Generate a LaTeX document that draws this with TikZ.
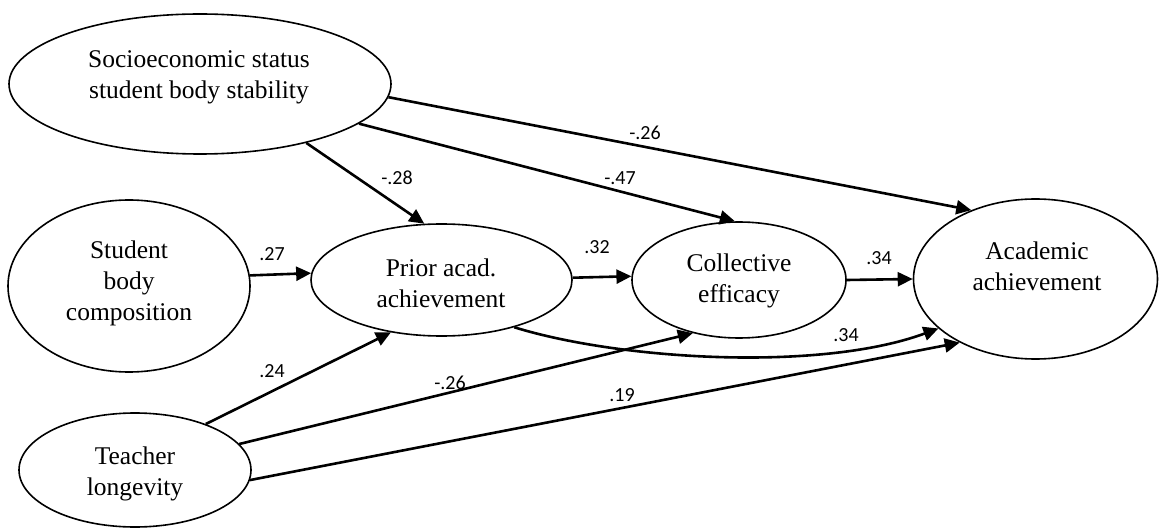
\documentclass[tikz,border=0pt]{standalone}
\usepackage{fontspec}
\setmainfont{Liberation Serif}
\newfontfamily\coeffont{Carlito}
\usetikzlibrary{arrows.meta, shapes.geometric}

\begin{document}
\begin{tikzpicture}[x=1pt, y=-1pt,
  latent/.style={draw, ellipse, line width=1.6pt, inner sep=0pt},
  nametext/.style={align=center, inner sep=0pt, font=\fontsize{25.5}{31}\selectfont},
  effect/.style={line width=2.6pt, -{Triangle[length=15pt, width=14pt]}},
  coef/.style={inner sep=0pt, font=\coeffont\fontsize{20}{22}\selectfont}]

\useasboundingbox (0,0) rectangle (1159,529);

% latent variables
\node[latent, minimum width=382pt, minimum height=140pt] (socio)   at (200,84)  {};
\node[latent, minimum width=242pt, minimum height=172pt] (student) at (129,286) {};
\node[latent, minimum width=261pt, minimum height=112pt] (prior)   at (441.5,280) {};
\node[latent, minimum width=214pt, minimum height=116pt] (coll)    at (739,280) {};
\node[latent, minimum width=244pt, minimum height=160pt] (acad)    at (1035.5,279) {};
\node[latent, minimum width=232pt, minimum height=114pt] (teacher) at (135,470) {};

% names
\node[nametext] (socio-t)   at (199,77)  {Socioeconomic status\\student body stability};
\node[nametext] (student-t) at (129,283) {Student\\body\\composition};
\node[nametext] (prior-t)   at (441,283) {Prior acad.\\achievement};
\node[nametext] (coll-t)    at (739,281) {Collective\\efficacy};
\node[nametext] (acad-t)    at (1037,266) {Academic\\achievement};
\node[nametext] (teacher-t) at (135,474) {Teacher\\longevity};

% paths
\draw[effect] (socio.-4.2)   -- (acad.133.3);
\draw[effect] (socio.-14.5)  -- (coll.94);
\draw[effect] (socio.-29.4)  -- (prior.107);
\draw[effect] (student.5.7)  -- (prior.177.8);
\draw[effect] (prior.1)      -- (coll.178.4);
\draw[effect] (coll.east)    -- (acad.west);
\draw[effect] (prior.-33.5) .. controls (620,360) and (820,372) .. (acad.207.8);
\draw[effect] (teacher.33.7) -- (prior.226.6);
\draw[effect] (teacher.14.7) -- (coll.229.2);
\draw[effect] (teacher.-5.4) -- (acad.220.4);

% coefficients
\node[coef] (c1)  at (645,133) {-.26};
\node[coef] (c2)  at (620,178) {-.47};
\node[coef] (c3)  at (397,178) {-.28};
\node[coef] (c4)  at (272,254) {.27};
\node[coef] (c5)  at (597,247) {.32};
\node[coef] (c6)  at (879,258) {.34};
\node[coef] (c7)  at (846,335) {.34};
\node[coef] (c8)  at (272,371) {.24};
\node[coef] (c9)  at (450,383) {-.26};
\node[coef] (c10) at (622,395) {.19};
\end{tikzpicture}
\end{document}
